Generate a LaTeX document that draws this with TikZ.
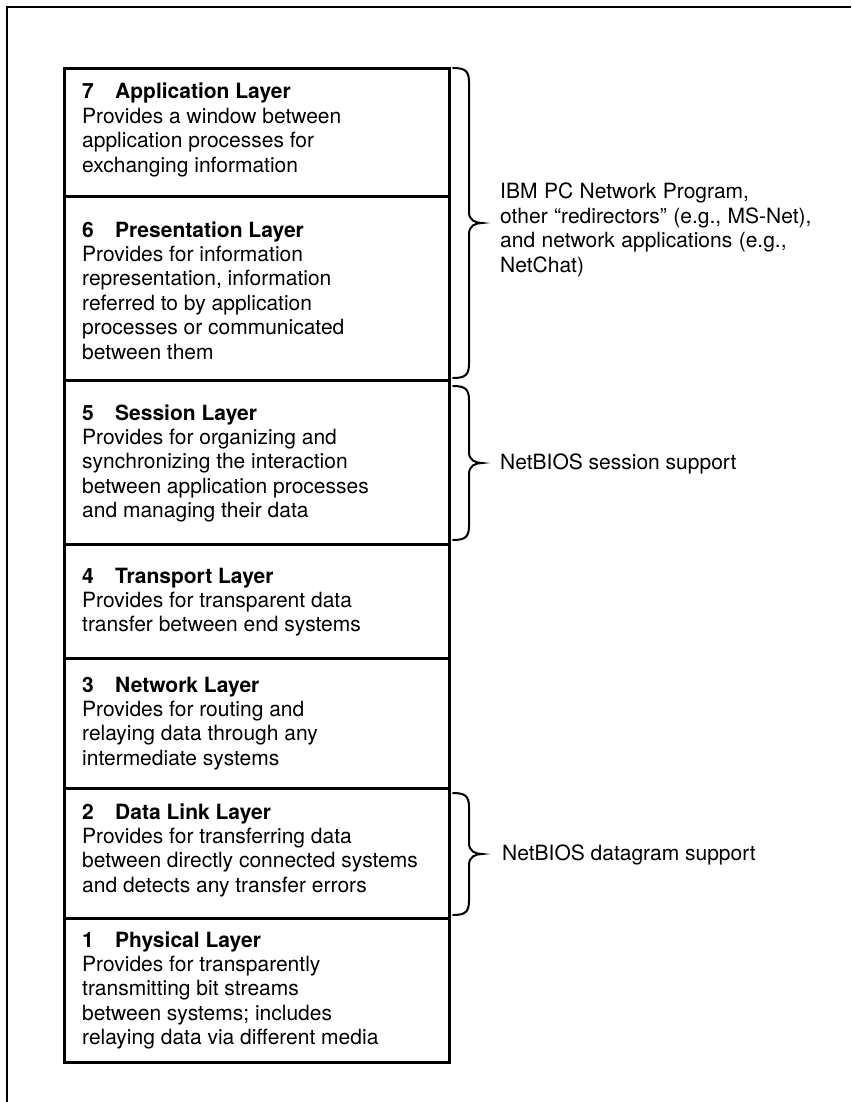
\documentclass[tikz,border=0pt]{standalone}
\usepackage{fontspec}
\setmainfont{TeX Gyre Heros}
\newcommand{\osibrace}[2]{%
  \pgfmathsetmacro{\bmid}{(#1+#2)/2}%
  \draw[bracestyle] (453,#1) .. controls (465,#1) and (469,{#1+3}) .. (469,{#1+14})
    -- (469,{\bmid-11}) .. controls (469,{\bmid-3}) and (475,\bmid) .. (482,\bmid)
    .. controls (475,\bmid) and (469,{\bmid+3}) .. (469,{\bmid+11})
    -- (469,{#2-14}) .. controls (469,{#2-3}) and (465,#2) .. (453,#2);}
\newcommand{\ttl}[2]{\textbf{\makebox[33pt][l]{#1}#2}}
\begin{document}
\begin{tikzpicture}[x=1pt,y=-1pt,
  layerbox/.style={draw, line width=2.8pt, rectangle, inner sep=0pt, anchor=north west, minimum width=385pt},
  layertext/.style={anchor=base west, inner sep=0pt, font=\fontsize{21}{24.4}\selectfont},
  bracestyle/.style={line width=2pt, line cap=round},
  framestyle/.style={line width=2pt}]
\useasboundingbox (0,0) rectangle (851,1102);
\fill[white] (0,0) rectangle (851,1102);
\draw[framestyle] (7,1102) -- (7,7) -- (851,7);
% layer boxes
\node[layerbox, minimum height=128pt] (L7) at (63,67) {};
\node[layerbox, minimum height=184pt] (L6) at (63,195) {};
\node[layerbox, minimum height=164pt] (L5) at (63,379) {};
\node[layerbox, minimum height=114pt] (L4) at (63,543) {};
\node[layerbox, minimum height=130pt] (L3) at (63,657) {};
\node[layerbox, minimum height=130pt] (L2) at (63,787) {};
\node[layerbox, minimum height=144pt] (L1) at (63,917) {};
% texts
\node[layertext] (T7) at (82,99) {\parbox[t]{360pt}{\ttl{7}{Application Layer}\\Provides a window between\\application processes for\\exchanging information}};
\node[layertext] (T6) at (82,237) {\parbox[t]{360pt}{\ttl{6}{Presentation Layer}\\Provides for information\\representation, information\\referred to by application\\processes or communicated\\between them}};
\node[layertext] (T5) at (82,420) {\parbox[t]{360pt}{\ttl{5}{Session Layer}\\Provides for organizing and\\synchronizing the interaction\\between application processes\\and managing their data}};
\node[layertext] (T4) at (82,583) {\parbox[t]{360pt}{\ttl{4}{Transport Layer}\\Provides for transparent data\\transfer between end systems}};
\node[layertext] (T3) at (82,692) {\parbox[t]{360pt}{\ttl{3}{Network Layer}\\Provides for routing and\\relaying data through any\\intermediate systems}};
\node[layertext] (T2) at (82,819) {\parbox[t]{360pt}{\ttl{2}{Data Link Layer}\\Provides for transferring data\\between directly connected systems\\and detects any transfer errors}};
\node[layertext] (T1) at (82,947) {\parbox[t]{360pt}{\ttl{1}{Physical Layer}\\Provides for transparently\\transmitting bit streams\\between systems; includes\\relaying data via different media}};
% braces
\osibrace{68}{378}
\osibrace{386}{540}
\osibrace{793}{915}
% side texts
\node[layertext] (S1) at (500,199) {\parbox[t]{345pt}{\spaceskip=6.5pt plus 1pt IBM PC Network Program,\\other “redirectors” (e.g., MS-Net),\\and network applications (e.g.,\\NetChat)}};
\node[layertext] (S2) at (500,469) {NetBIOS session support};
\node[layertext] (S3) at (502,860) {NetBIOS datagram support};
\end{tikzpicture}
\end{document}
